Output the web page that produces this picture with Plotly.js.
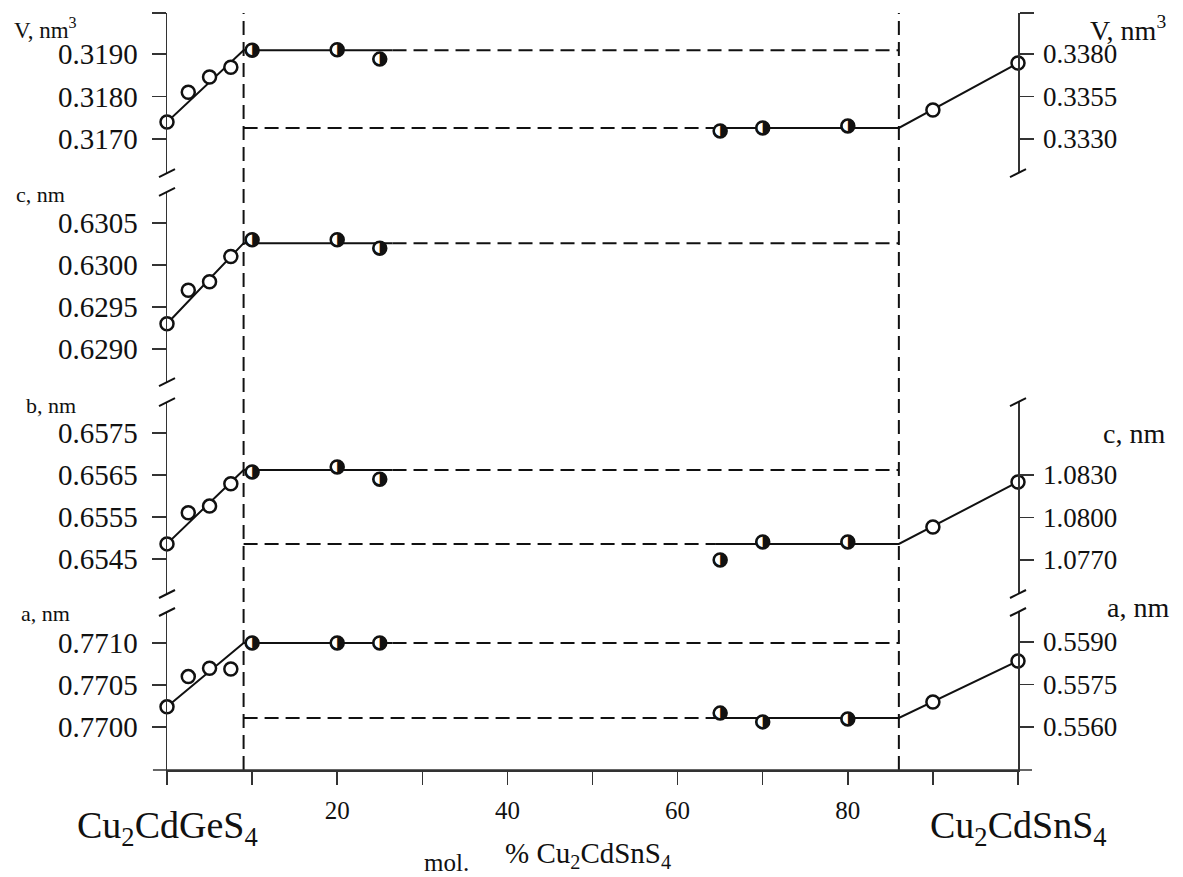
<!DOCTYPE html>
<html><head><meta charset="utf-8">
<script src="https://cdn.plot.ly/plotly-3.0.1.min.js"></script>
<style>html,body{margin:0;padding:0;background:#fff}#chart{width:1183px;height:877px}</style>
</head><body><div id="chart"></div>
<script>
// ---- data (mol.% Cu2CdSnS4) ----
const xOpenLeft = [0, 2.5, 5, 7.5];
const xHalfLeft = [10, 20, 25];
const xHalfRight = [65, 70, 80];
const xOpenRight = [90, 100];
const phaseX = [9, 86];            // phase boundaries
const plateauLeftEnd = 26.5;
const plateauRightStart = 64.5;

// V, nm3
const V_openLeft = [0.3174, 0.3181, 0.31846, 0.31869];
const V_halfLeft = [0.31909, 0.31910, 0.31888];
const V_levelLeft = 0.31909;
const V_halfRight = [0.33347, 0.33365, 0.33376];
const V_openRight = [0.33471, 0.33747];
const V_levelRight = 0.33365;

// c, nm (left phase)
const c_openLeft = [0.6293, 0.6297, 0.6298, 0.6301];
const c_halfLeft = [0.6303, 0.6303, 0.6302];
const c_levelLeft = 0.63026;

// b, nm (left) / c, nm (right)
const b_openLeft = [0.65486, 0.6556, 0.65576, 0.65629];
const b_halfLeft = [0.65657, 0.65669, 0.6564];
const b_levelLeft = 0.65662;
const cR_halfRight = [1.0770, 1.07827, 1.07827];
const cR_openRight = [1.07933, 1.08251];
const cR_levelRight = 1.07813;

// a, nm
const a_openLeft = [0.77024, 0.77060, 0.77070, 0.77069];
const a_halfLeft = [0.7710, 0.7710, 0.7710];
const a_levelLeft = 0.7710;
const aR_halfRight = [0.55649, 0.55618, 0.55628];
const aR_openRight = [0.55688, 0.55833];
const aR_levelRight = 0.55632;

// tick labels
const xLabelVals = [20, 40, 60, 80];
const xMinorVals = [0, 10, 30, 50, 70, 90, 100];
const V_ticks = [0.3170, 0.3180, 0.3190];
const VR_ticks = [0.3330, 0.3355, 0.3380];
const c_ticks = [0.6290, 0.6295, 0.6300, 0.6305];
const b_ticks = [0.6545, 0.6555, 0.6565, 0.6575];
const cR_ticks = [1.0770, 1.0800, 1.0830];
const a_ticks = [0.7700, 0.7705, 0.7710];
const aR_ticks = [0.5560, 0.5575, 0.5590];

// ---- styling ----
const FONT = "'Liberation Serif', 'Times New Roman', Times, serif";
const INK = '#111';
const AX = '#333';
const DASH = '14px,7px';

const traces = [];
function line(x, y, ya, dashed) {
  traces.push({x, y, yaxis: ya, type: 'scatter', mode: 'lines', cliponaxis: false,
    line: {color: INK, width: 2, dash: dashed ? DASH : 'solid'}, hoverinfo: 'skip', showlegend: false});
}
function ring(x, y, ya) {
  traces.push({x, y, yaxis: ya, type: 'scatter', mode: 'markers', cliponaxis: false,
    marker: {symbol: 'circle', size: 13, color: '#fff', line: {color: INK, width: 2.5}}, showlegend: false});
}
function openPts(x, y, ya) { ring(x, y, ya); }
function halfPts(x, y, ya) {
  ring(x, y, ya);
  traces.push({x, y, yaxis: ya, type: 'scatter', mode: 'text', cliponaxis: false,
    text: x.map(() => '\u25D1'), textposition: 'middle center',
    textfont: {family: 'DejaVu Sans', size: 17, color: INK}, showlegend: false});
}

// V panel (y4 left, y5 right)
line([0, phaseX[0], plateauLeftEnd], [V_openLeft[0], V_levelLeft, V_levelLeft], 'y4', false);
line([plateauLeftEnd, phaseX[1]], [V_levelLeft, V_levelLeft], 'y4', true);
line([phaseX[0], plateauRightStart], [V_levelRight, V_levelRight], 'y5', true);
line([plateauRightStart, phaseX[1], 100], [V_levelRight, V_levelRight, V_openRight[1]], 'y5', false);
openPts(xOpenLeft, V_openLeft, 'y4'); halfPts(xHalfLeft, V_halfLeft, 'y4');
halfPts(xHalfRight, V_halfRight, 'y5'); openPts(xOpenRight, V_openRight, 'y5');

// c panel (y3)
line([0, phaseX[0], plateauLeftEnd], [c_openLeft[0], c_levelLeft, c_levelLeft], 'y3', false);
line([plateauLeftEnd, phaseX[1]], [c_levelLeft, c_levelLeft], 'y3', true);
openPts(xOpenLeft, c_openLeft, 'y3'); halfPts(xHalfLeft, c_halfLeft, 'y3');

// b panel (y2 left, y6 right)
line([0, phaseX[0], plateauLeftEnd], [b_openLeft[0], b_levelLeft, b_levelLeft], 'y2', false);
line([plateauLeftEnd, phaseX[1]], [b_levelLeft, b_levelLeft], 'y2', true);
line([phaseX[0], plateauRightStart], [cR_levelRight, cR_levelRight], 'y6', true);
line([plateauRightStart, phaseX[1], 100], [cR_levelRight, cR_levelRight, cR_openRight[1]], 'y6', false);
openPts(xOpenLeft, b_openLeft, 'y2'); halfPts(xHalfLeft, b_halfLeft, 'y2');
halfPts(xHalfRight, cR_halfRight, 'y6'); openPts(xOpenRight, cR_openRight, 'y6');

// a panel (y left, y7 right)
line([0, phaseX[0], plateauLeftEnd], [a_openLeft[0], a_levelLeft, a_levelLeft], 'y', false);
line([plateauLeftEnd, phaseX[1]], [a_levelLeft, a_levelLeft], 'y', true);
line([phaseX[0], plateauRightStart], [aR_levelRight, aR_levelRight], 'y7', true);
line([plateauRightStart, phaseX[1], 100], [aR_levelRight, aR_levelRight, aR_openRight[1]], 'y7', false);
openPts(xOpenLeft, a_openLeft, 'y'); halfPts(xHalfLeft, a_halfLeft, 'y');
halfPts(xHalfRight, aR_halfRight, 'y7'); openPts(xOpenRight, aR_openRight, 'y7');

const fmt = v => v.toFixed(4);
function yax(domain, range, ticks, endTick, side) {
  const o = {range, tickvals: ticks, ticktext: ticks.map(fmt), showgrid: false, zeroline: false,
    showline: true, linecolor: AX, linewidth: 1.5, ticks: 'outside', ticklen: 14, tickwidth: 1.5,
    tickcolor: AX, tickfont: {family: FONT, size: side === 'right' ? 27 : 29, color: INK},
    ticklabelstandoff: side === 'right' ? 4 : 8, anchor: 'x', fixedrange: true};
  if (endTick !== undefined) o.minor = {tickvals: [endTick], ticks: 'outside', ticklen: 14, tickwidth: 1.5, tickcolor: AX, showgrid: false};
  if (domain) o.domain = domain;
  return o;
}

const D1 = [0.7886, 1], D2 = [0.5125, 0.7636], D3 = [0.2325, 0.4861], D4 = [0, 0.2087];

const layout = {
  width: 1183, height: 877,
  margin: {l: 167, r: 165, t: 13, b: 107},
  paper_bgcolor: '#fff', plot_bgcolor: 'rgba(0,0,0,0)',
  font: {family: FONT, color: INK},
  showlegend: false,
  xaxis: {range: [0, 100], tickvals: xLabelVals, ticktext: xLabelVals.map(String), showgrid: false, zeroline: false,
    showline: true, linecolor: AX, linewidth: 1.5, ticks: 'outside', ticklen: 13, tickwidth: 1.5, tickcolor: AX,
    minor: {tickvals: xMinorVals, ticks: 'outside', ticklen: 13, tickwidth: 1.5, tickcolor: AX, showgrid: false},
    tickfont: {family: FONT, size: 25, color: INK}, ticklabelstandoff: 4, anchor: 'y', fixedrange: true},
  yaxis: yax(D4, [0.769488, 0.771369], a_ticks),
  yaxis2: yax(D3, [0.653667, 0.658238], b_ticks),
  yaxis3: yax(D2, [0.628607, 0.630869], c_ticks),
  yaxis4: yax(D1, [0.3162, 0.319965], V_ticks, 0.31996),
  yaxis5: Object.assign(yax(null, [0.3310, 0.340412], VR_ticks, 0.34040, 'right'), {overlaying: 'y4', side: 'right'}),
  yaxis6: Object.assign(yax(null, [1.0746, 1.088153], cR_ticks, undefined, 'right'), {overlaying: 'y2', side: 'right'}),
  yaxis7: Object.assign(yax(null, [0.554482, 0.560059], aR_ticks, undefined, 'right'), {overlaying: 'y', side: 'right'}),
  shapes: [],
  annotations: []
};

// phase boundary verticals
phaseX.forEach(px => layout.shapes.push({type: 'line', xref: 'x', yref: 'paper', x0: px, x1: px, y0: 0, y1: 1,
  line: {color: INK, width: 2, dash: DASH}}));
// x-axis line extensions beyond the end members
layout.shapes.push({type: 'line', xref: 'paper', yref: 'paper', x0: -0.0165, x1: 1.0165, y0: 0, y1: 0, line: {color: AX, width: 1.5}});
// axis-break slashes
function slash(xa, ya) {
  layout.shapes.push({type: 'line', xref: 'paper', yref: 'paper', xsizemode: 'pixel', ysizemode: 'pixel',
    xanchor: xa, yanchor: ya, x0: -8, x1: 8, y0: -4, y1: 4, line: {color: INK, width: 2}});
}
[D1[0], D2[1], D2[0], D3[1], D3[0], D4[1]].forEach(v => slash(0, v));
[D1[0], D3[1], D3[0], D4[1]].forEach(v => slash(1, v));

function ann(text, px, py, size, xanchor) {
  layout.annotations.push({text, xref: 'paper', yref: 'paper', x: (px - 167) / 851, y: (770 - py) / 757,
    xanchor: xanchor || 'left', yanchor: 'middle', showarrow: false, font: {family: FONT, size, color: INK}});
}
ann('V, nm<sup>3</sup>', 12, 29, 23);
ann('c, nm', 14, 194, 22);
ann('b, nm', 24, 405, 22);
ann('a, nm', 19, 613, 22);
ann('V, nm<sup>3</sup>', 1088, 29, 28);
ann('c, nm', 1101, 433, 28);
ann('a, nm', 1105, 607, 28);
ann('Cu<sub>2</sub>CdGeS<sub>4</sub>', 167, 828, 38, 'center');
ann('Cu<sub>2</sub>CdSnS<sub>4</sub>', 1018, 828, 38, 'center');
ann('mol.', 446, 862, 25, 'center');
ann('% Cu<sub>2</sub>CdSnS<sub>4</sub>', 588, 855, 29, 'center');

Plotly.newPlot('chart', traces, layout, {staticPlot: true, displayModeBar: false});
</script></body></html>
